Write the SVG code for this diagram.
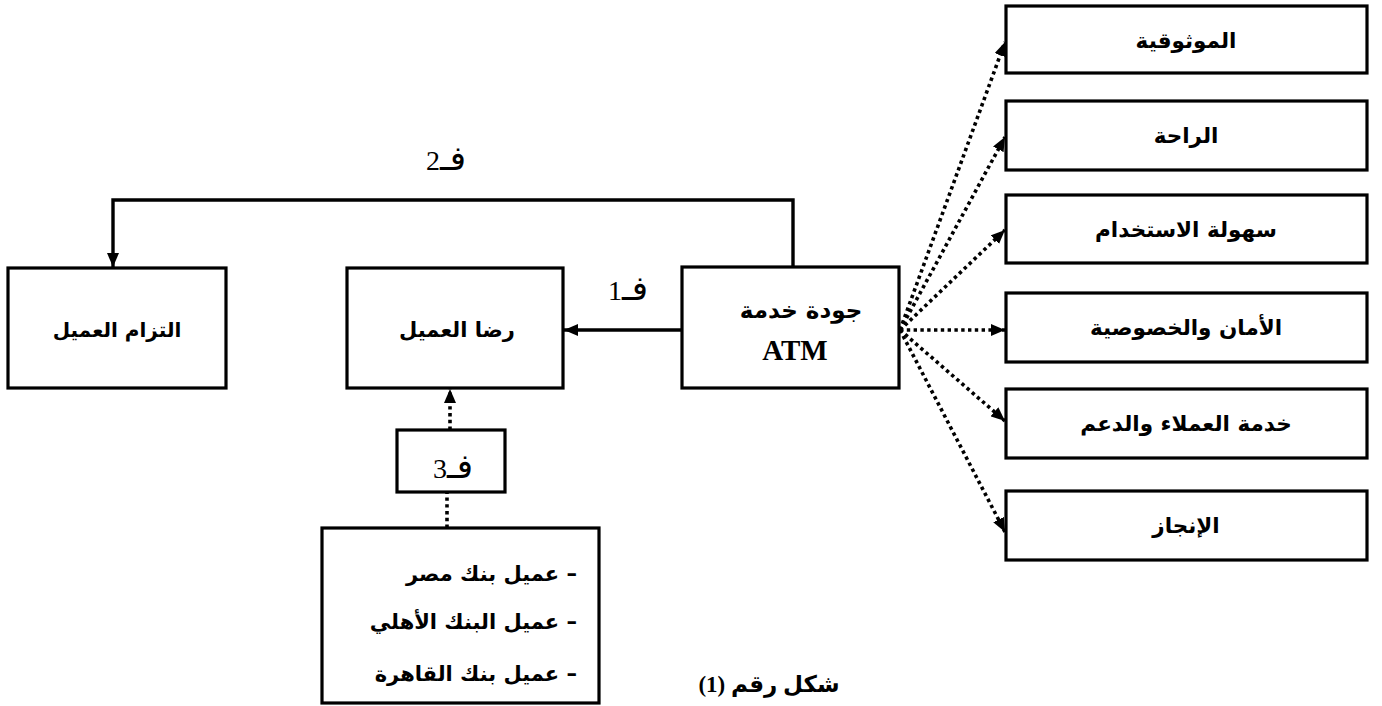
<svg xmlns="http://www.w3.org/2000/svg" width="1382" height="706" viewBox="0 0 1382 706">
<defs>
<style>
.box{fill:#fff;stroke:#000;stroke-width:3.2}
.solid{fill:none;stroke:#000;stroke-width:3.4}
.dot{fill:none;stroke:#000;stroke-width:3.6;stroke-dasharray:3.4 3.4}
.ar{font-family:"DejaVu Sans","Noto Sans",sans-serif;font-weight:bold;fill:#000}
.ars{font-family:"Liberation Serif","DejaVu Sans",serif;font-weight:bold;fill:#000}
.lbl{font-family:"Liberation Serif","DejaVu Sans",serif;fill:#000}
.fa{font-size:34px}
</style>
<marker id="ah" viewBox="0 0 14 12" refX="14" refY="6" markerWidth="14" markerHeight="12" markerUnits="userSpaceOnUse" orient="auto">
<path d="M0,0 L14,6 L0,12 z" fill="#000"/>
</marker>
</defs>
<rect width="1382" height="706" fill="#fff"/>

<g id="connectors">
<path class="solid" d="M793,267 V200 H113 V267" marker-end="url(#ah)"/>
<path class="solid" d="M682,330 H564" marker-end="url(#ah)"/>
<path class="dot" d="M450,430 V389" marker-end="url(#ah)"/>
<path class="dot" d="M447,528 V493"/>
<path class="dot" d="M900,330 L1005,42" marker-end="url(#ah)"/>
<path class="dot" d="M900,330 L1005,137" marker-end="url(#ah)"/>
<path class="dot" d="M900,330 L1005,230" marker-end="url(#ah)"/>
<path class="dot" d="M900,330 L1005,330" marker-end="url(#ah)"/>
<path class="dot" d="M900,330 L1005,421" marker-end="url(#ah)"/>
<path class="dot" d="M900,330 L1005,532" marker-end="url(#ah)"/>
</g>

<g id="labels">
<text class="lbl" x="446" y="170" font-size="28" text-anchor="middle" direction="rtl"><tspan class="fa">فـ</tspan>2</text>
<text class="lbl" x="628" y="300" font-size="28" text-anchor="middle" direction="rtl"><tspan class="fa">فـ</tspan>1</text>
</g>

<g id="n-commit">
<rect class="box" x="8" y="268" width="218" height="120"/>
<text class="ar" x="117" y="337" font-size="20" text-anchor="middle" direction="rtl">التزام العميل</text>
</g>

<g id="n-satisfaction">
<rect class="box" x="347" y="268" width="216" height="120"/>
<text class="ar" x="457" y="337" font-size="21" text-anchor="middle" direction="rtl">رضا العميل</text>
</g>

<g id="n-quality">
<rect class="box" x="682" y="267" width="217" height="121"/>
<text class="ar" x="801" y="318" font-size="23" text-anchor="middle" direction="rtl">جودة خدمة</text>
<text class="ars" x="795" y="360" font-size="29" text-anchor="middle">ATM</text>
</g>

<g id="n-h3">
<rect class="box" x="397" y="430" width="108" height="62"/>
<text class="lbl" x="453" y="478" font-size="28" text-anchor="middle" direction="rtl"><tspan class="fa">فـ</tspan>3</text>
</g>

<g id="n-banks">
<rect class="box" x="322" y="528" width="277" height="175"/>
<text class="ar" x="577" y="581" font-size="21" text-anchor="start" direction="rtl">– عميل بنك مصر</text>
<text class="ar" x="577" y="629" font-size="21" text-anchor="start" direction="rtl">– عميل البنك الأهلي</text>
<text class="ar" x="577" y="681" font-size="21" text-anchor="start" direction="rtl">– عميل بنك القاهرة</text>
</g>

<g id="n-reliability">
<rect class="box" x="1006" y="6" width="361" height="67"/>
<text class="ar" x="1186" y="48" font-size="21.5" text-anchor="middle" direction="rtl">الموثوقية</text>
</g>
<g id="n-comfort">
<rect class="box" x="1006" y="101" width="361" height="69"/>
<text class="ar" x="1186" y="143" font-size="21.5" text-anchor="middle" direction="rtl">الراحة</text>
</g>
<g id="n-ease">
<rect class="box" x="1006" y="195" width="361" height="68"/>
<text class="ar" x="1186" y="237" font-size="21.5" text-anchor="middle" direction="rtl">سهولة الاستخدام</text>
</g>
<g id="n-security">
<rect class="box" x="1006" y="293" width="361" height="69"/>
<text class="ar" x="1186" y="335" font-size="21.5" text-anchor="middle" direction="rtl">الأمان والخصوصية</text>
</g>
<g id="n-support">
<rect class="box" x="1006" y="389" width="361" height="69"/>
<text class="ar" x="1186" y="431" font-size="21.5" text-anchor="middle" direction="rtl">خدمة العملاء والدعم</text>
</g>
<g id="n-achievement">
<rect class="box" x="1006" y="491" width="361" height="69"/>
<text class="ar" x="1186" y="533" font-size="21.5" text-anchor="middle" direction="rtl">الإنجاز</text>
</g>

<g id="caption">
<text class="ars" x="769" y="692" font-size="23" text-anchor="middle" direction="rtl">شكل رقم (1)</text>
</g>
</svg>
